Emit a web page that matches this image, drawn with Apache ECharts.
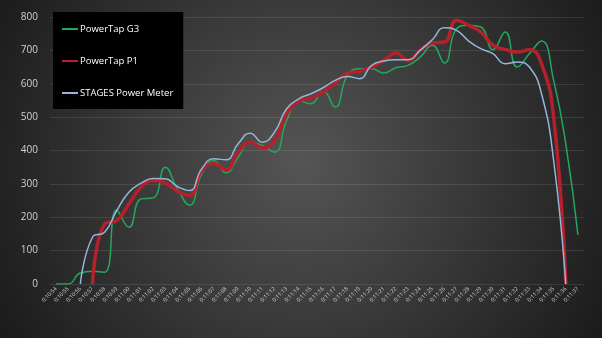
<!DOCTYPE html>
<html><head><meta charset="utf-8">
<script src="https://cdn.jsdelivr.net/npm/echarts@6/dist/echarts.min.js"></script>
<style>html,body{margin:0;padding:0;background:#2a2a2a}#c{width:602px;height:338px}</style>
</head><body><div id="c"></div>
<script>
var categories = ['0:10:54','0:10:55','0:10:56','0:10:57','0:10:58','0:10:59','0:11:00','0:11:01','0:11:02','0:11:03','0:11:04','0:11:05','0:11:06','0:11:07','0:11:08','0:11:09','0:11:10','0:11:11','0:11:12','0:11:13','0:11:14','0:11:15','0:11:16','0:11:17','0:11:18','0:11:19','0:11:20','0:11:21','0:11:22','0:11:23','0:11:24','0:11:25','0:11:26','0:11:27','0:11:28','0:11:29','0:11:30','0:11:31','0:11:32','0:11:33','0:11:34','0:11:35','0:11:36','0:11:37'];
var powerTapG3 = [0,0,33,38,35,222,170,255,258,350,285,236,330,370,333,380,425,415,395,490,548,540,578,530,625,645,645,632,648,655,680,715,662,765,775,770,702,755,650,690,728,610,420,147];
var powerTapP1 = [null,null,null,0,180,190,240,290,310,303,278,265,340,360,342,395,425,408,430,510,548,557,575,602,632,637,650,670,692,670,700,722,725,790,775,755,715,703,695,702,660,500,0,null];
var stagesPM = [null,null,0,140,155,220,275,302,316,315,292,280,345,375,372,420,452,425,455,525,555,570,588,610,622,615,655,668,672,672,700,732,768,760,728,705,690,660,665,650,570,370,0,null];
var seriesNames = ['PowerTap G3','PowerTap P1','STAGES Power Meter'];
var yTicks = {min:0, max:800, interval:100};

var chart = echarts.init(document.getElementById('c'), null, {renderer:'canvas'});
chart.setOption({
  animation:false,
  backgroundColor:{type:'radial', x:0.5, y:0.48, r:1.0, colorStops:[{offset:0,color:'#555555'},{offset:1,color:'#1c1c1c'}]},
  grid:{left:50, right:18, top:17, bottom:54, containLabel:false},
  legend:{
    orient:'vertical', left:53, top:12,
    backgroundColor:'#000', padding:[12,10,11,9], itemGap:22,
    itemWidth:16, itemHeight:2, icon:'rect',
    textStyle:{color:'#ffffff', fontSize:9.5, fontFamily:'Open Sans', padding:[0,0,0,-3]},
    data:seriesNames
  },
  xAxis:{
    type:'category', data:categories, boundaryGap:true,
    axisLine:{show:false}, axisTick:{show:false},
    axisLabel:{rotate:45, fontSize:5.5, color:'#cfcfcf', interval:0, margin:4, fontFamily:'Open Sans'}
  },
  yAxis:{
    type:'value', min:yTicks.min, max:yTicks.max, interval:yTicks.interval,
    axisLine:{show:false}, axisTick:{show:false},
    axisLabel:{fontSize:10, color:'#d0d0d0', margin:12, fontFamily:'Open Sans'},
    splitLine:{lineStyle:{color:'rgba(255,255,255,0.1)', width:1}}
  },
  series:[
    {name:seriesNames[0], type:'line', data:powerTapG3, smooth:0.5, showSymbol:false,
     lineStyle:{color:'#22a85c', width:1.5}, itemStyle:{color:'#22a85c'}},
    {name:seriesNames[1], type:'line', data:powerTapP1, smooth:0.5, showSymbol:false,
     lineStyle:{color:'#b5212a', width:3.5}, itemStyle:{color:'#b5212a'}},
    {name:seriesNames[2], type:'line', data:stagesPM, smooth:0.5, showSymbol:false,
     lineStyle:{color:'#94b6da', width:1.5}, itemStyle:{color:'#94b6da'}}
  ]
});
</script></body></html>
